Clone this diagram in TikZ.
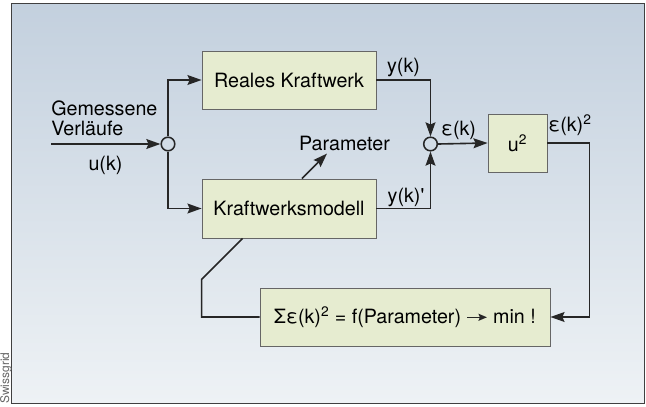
\documentclass[tikz,border=0pt]{standalone}
\usepackage{fontspec}
\setmainfont{TeX Gyre Heros}
\usetikzlibrary{arrows.meta,calc}

\definecolor{bgtop}{HTML}{C3D0DE}
\definecolor{bgbottom}{HTML}{EEF2F5}
\definecolor{boxfill}{HTML}{E6ECD0}
\definecolor{linecol}{HTML}{262626}

\newcommand{\minarrow}{\tikz[baseline=-0.6ex]\draw[draw=linecol, line width=1pt, -{Stealth[length=6pt, width=5pt, inset=1pt]}] (0pt,0pt) -- (14pt,0pt);}

\begin{document}
\begin{tikzpicture}[x=0.25mm, y=-0.25mm, font=\fontsize{14}{14.5}\selectfont,
			block/.style={draw=black!60, fill=boxfill, line width=0.6pt, inner sep=0pt},
			junction/.style={circle, draw=linecol, line width=1.1pt, minimum size=3.4mm, inner sep=0pt},
			signal/.style={draw=linecol, line width=1.15pt},
			flow/.style={signal, -{Stealth[length=10pt, width=7pt, inset=1.5pt]}},
			lbl/.style={inner sep=0pt}]

			% draw background and frame
			\useasboundingbox[fill=white] (0,0) rectangle (646,407);
			\shade [top color=bgtop, bottom color=bgbottom, draw=black!75, line width=0.7pt] (11.5,3.5) rectangle (644,403);
			\node [rotate=90, anchor=base west, font=\fontsize{8.5}{9}\selectfont, text=black!60, inner sep=0pt] (credit) at (9,404) {Swissgrid};

			% draw the blocks
			\node [block, minimum width=43.5mm, minimum height=14.5mm] (plant) at (289,80) {Reales Kraftwerk};
			\node [block, minimum width=43.5mm, minimum height=14.75mm] (model) at (289,208.5) {Kraftwerksmodell};
			\node [block, minimum width=14.75mm, minimum height=14.5mm] (square) at (517.5,143) {u\textsuperscript{2}};
			\node [block, minimum width=72.5mm, minimum height=14.5mm] (crit) at (405,317) {Σε(k)\textsuperscript{2} = f(Parameter) \minarrow\ min !};

			% junctions
			\node [junction] (split) at (168,144) {};
			\node [junction] (diff) at (430.5,144) {};
			\coordinate (src) at (51,144);

			% signal labels
			\node [lbl, anchor=west, align=left] (measured) at (51,118) {Gemessene\\Verläufe};
			\node [lbl] (uk) at (105.5,165) {u(k)};
			\node [lbl] (yk) at (403.5,67) {y(k)};
			\node [lbl] (ykm) at (406,197) {y(k)\textquotesingle};
			\node [lbl] (ek) at (458.5,130) {ε(k)};
			\node [lbl] (eksq) at (570,125) {ε(k)\textsuperscript{2}};
			\node [lbl] (param) at (344.5,143) {Parameter};

			% forward paths
			\draw [flow] (src) -- (split.west);
			\draw [flow] (split.north) |- (plant.west);
			\draw [flow] (split.south) |- (model.west);
			\draw [flow] (plant.east) -| (diff.north);
			\draw [flow] (model.east) -| (diff.south);
			\draw [flow] (diff.east) -- (square.west);
			\draw [flow] (square.east) -- ++(42,0) |- (crit.east);
			\draw [flow] ($(model.north)+(13,0)$) -- ++(25,-25);

			% feedback to the model
			\draw [signal] (crit.west) -| ($(model.south west)+(0,41)$) -- ($(model.south west)+(41,0)$);
		\end{tikzpicture}
\end{document}
